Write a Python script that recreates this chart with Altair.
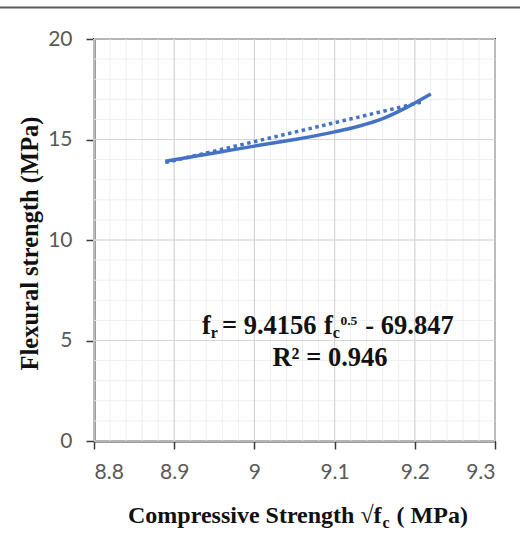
import altair as alt
import pandas as pd

# Measured curve: sqrt(fc) vs flexural strength
sqrt_fc = [8.889, 8.950, 9.000, 9.050, 9.100, 9.130, 9.160, 9.190, 9.220]
flexural = [13.92, 14.33, 14.67, 15.00, 15.38, 15.66, 16.04, 16.60, 17.26]

# Linear fit reported on the chart
slope = 9.4156
intercept = -69.847
r_squared = 0.946
fit_range = [8.889, 9.211]

x_ticks = [8.8, 8.9, 9.0, 9.1, 9.2, 9.3]
y_ticks = [0, 5, 10, 15, 20]

W, H = 401, 402
BLUE = "#4472C4"
FRAME = "#3a3a3a"
SERIF = "Liberation Serif"

df = pd.DataFrame({"x": sqrt_fc, "y": flexural})
fit_df = pd.DataFrame({"x": fit_range, "y": [slope * v + intercept for v in fit_range]})

minor_x = pd.DataFrame({"x": [round(8.8 + 0.02 * i, 2) for i in range(26)]})
minor_y = pd.DataFrame({"y": list(range(0, 21))})
major_x = pd.DataFrame({"x": x_ticks})
major_y = pd.DataFrame({"y": y_ticks})

xscale = alt.Scale(domain=[8.8, 9.3], nice=False, zero=False)
yscale = alt.Scale(domain=[0, 20], nice=False, zero=False)

x_axis = alt.Axis(values=x_ticks, format="~g", title=None, grid=False)
y_axis = alt.Axis(values=y_ticks, title="Flexural strength  (MPa)", grid=False,
                  titleFont=SERIF, titleFontWeight="bold", titleFontSize=24.5,
                  titleColor="#111111", titleX=-64, titleY=H / 2 + 3,
                  titleAngle=270, titleAlign="center", titleBaseline="middle")


def X():
    return alt.X("x:Q", scale=xscale, axis=x_axis)


def Y():
    return alt.Y("y:Q", scale=yscale, axis=y_axis)


grid_minor_x = alt.Chart(minor_x).mark_rule(color="#eeeeee", strokeWidth=1).encode(x=X())
grid_minor_y = alt.Chart(minor_y).mark_rule(color="#eeeeee", strokeWidth=1).encode(y=Y())
grid_major_x = alt.Chart(major_x).mark_rule(color="#d6d6d6", strokeWidth=1.2).encode(x=X())
grid_major_y = alt.Chart(major_y).mark_rule(color="#d6d6d6", strokeWidth=1.2).encode(y=Y())

curve = alt.Chart(df).mark_line(color=BLUE, strokeWidth=3.5, interpolate="monotone").encode(x=X(), y=Y())
fit = alt.Chart(fit_df).mark_line(color=BLUE, strokeWidth=3.5, strokeDash=[3.5, 3.5],
                                  strokeCap="butt").encode(x=X(), y=Y())


def txt(s, x, y, size, align="left"):
    return alt.Chart(pd.DataFrame({"t": [s]})).mark_text(
        font=SERIF, fontWeight="bold", fontSize=size, color="#111111",
        align=align, baseline="alphabetic"
    ).encode(text="t:N", x=alt.value(x), y=alt.value(y))


# equation, built from pieces so the subscripts/superscript sit correctly
eq_base = 295
S, SUB, SUP = 26.5, 16, 13.5
pieces = []
cx = 108
pieces.append(txt("f", cx, eq_base, S)); cx += 0.333 * S
pieces.append(txt("r", cx, eq_base + 4, SUB)); cx += 0.444 * SUB + 4
pieces.append(txt(f"= {slope}", cx, eq_base, S)); cx += 3.57 * S + 7.5
pieces.append(txt("f", cx, eq_base, S)); cx += 0.333 * S
pieces.append(txt("c", cx, eq_base + 4, SUB)); cx += 0.444 * SUB + 0.5
pieces.append(txt("0.5", cx, eq_base - 9, SUP)); cx += 1.25 * SUP + 8
pieces.append(txt(f"- {abs(intercept)}", cx, eq_base, S))
pieces.append(txt(f"R² = {r_squared}", 236, 327, S, align="center"))

# x-axis title with subscript c
xt_base = 484
xt_left = 34
XT, XTS = 24, 16
xtitle = [
    txt("Compressive Strength √f", xt_left, xt_base, XT),
    txt("c", xt_left + 10.603 * XT, xt_base + 5, XTS),
    txt("( MPa)", xt_left + 10.603 * XT + 0.444 * XTS + 0.25 * XT + 1, xt_base, XT),
]

top_line = alt.Chart(pd.DataFrame({"a": [0]})).mark_rule(color="#5a5a5a", strokeWidth=2).encode(
    x=alt.value(-94), x2=alt.value(426), y=alt.value(-31.5))

chart = alt.layer(
    grid_minor_x, grid_minor_y, grid_major_x, grid_major_y,
    fit, curve, *pieces, *xtitle, top_line
).properties(
    width=W, height=H,
    autosize=alt.AutoSizeParams(type="none"),
    padding={"left": 94, "top": 39, "right": 25, "bottom": 101},
).configure_view(
    stroke=FRAME, strokeWidth=2
).configure_axis(
    domainColor=FRAME, domainWidth=2, tickColor=FRAME, tickWidth=1.5, tickSize=8,
    labelFont="Lato", labelFontSize=21, labelColor="#595959", labelPadding=12,
).configure_axisY(
    labelPadding=14
)

chart.save("out.html", embed_options={"renderer": "svg", "actions": False})
